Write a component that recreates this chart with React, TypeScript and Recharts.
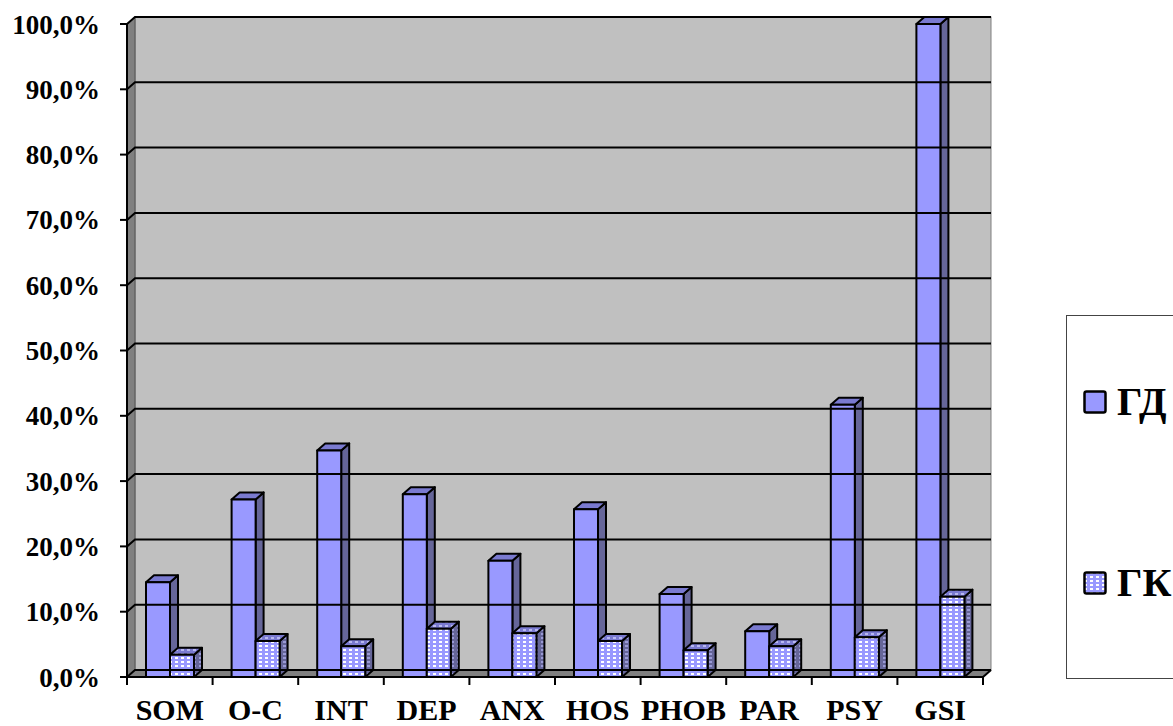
import React from "react";
import {
  BarChart,
  Bar,
  XAxis,
  YAxis,
  ReferenceArea,
  ReferenceLine,
  Legend,
} from "recharts";

const categories = ["SOM", "O-C", "INT", "DEP", "ANX", "HOS", "PHOB", "PAR", "PSY", "GSI"];
const gdValues = [14.5, 27.2, 34.7, 28.0, 17.8, 25.7, 12.7, 7.0, 41.7, 100.0];
const gkValues = [3.4, 5.5, 4.7, 7.4, 6.7, 5.5, 4.1, 4.7, 6.1, 12.3];
const yTicks = [0, 10, 20, 30, 40, 50, 60, 70, 80, 90, 100];
const seriesNames = ["ГД", "ГК"];

const data = categories.map((c, i) => ({ name: c, gd: gdValues[i], gk: gkValues[i] }));

const FONT = "'Liberation Serif', 'Times New Roman', serif";
const DX = 8;
const DY = 7;
const X_TICK_MARGIN = 22;

const GD_FACES = { front: "#9999FF", side: "#666699", top: "#7a7ad0" };
const GK_FACES = { front: "url(#gkFront)", side: "url(#gkSide)", top: "url(#gkTop)" };

function Box3D(props: any) {
  const { x, y, width, height, faces } = props;
  if (height == null || width == null) return null;
  const r = x + width;
  const b = y + height;
  return (
    <g stroke="#000" strokeWidth={2} strokeLinejoin="round">
      <polygon points={`${r},${y} ${r + DX},${y - DY} ${r + DX},${b - DY} ${r},${b}`} fill={faces.side} />
      <polygon points={`${x},${y} ${x + DX},${y - DY} ${r + DX},${y - DY} ${r},${y}`} fill={faces.top} />
      <rect x={x} y={y} width={width} height={height} fill={faces.front} />
    </g>
  );
}

function Walls(props: any) {
  const { x, y, width, height } = props;
  const r = x + width;
  const b = y + height;
  return (
    <g>
      <rect x={x + DX} y={y - DY} width={width} height={height} fill="#C0C0C0" stroke="#808080" strokeWidth={1} />
      <polygon points={`${x},${y} ${x + DX},${y - DY} ${x + DX},${b - DY} ${x},${b}`} fill="#808080" stroke="#555" strokeWidth={1} />
      <polygon points={`${x},${b} ${x + DX},${b - DY} ${r + DX},${b - DY} ${r},${b}`} fill="#808080" stroke="#555" strokeWidth={1} />
      <line x1={r} y1={b} x2={r + DX} y2={b - DY} stroke="#000" strokeWidth={2} />
    </g>
  );
}

function GridLine(props: any) {
  const { x1, y1, x2 } = props;
  return (
    <polyline
      points={`${x1},${y1} ${x1 + DX},${y1 - DY} ${x2 + DX},${y1 - DY}`}
      fill="none"
      stroke="#000"
      strokeWidth={2}
    />
  );
}

// category label plus tick marks at the band edges
function CatTick(props: any) {
  const { x, y, payload, width, visibleTicksCount, index } = props;
  const bw = width && visibleTicksCount ? width / visibleTicksCount : 0;
  const ay = y - X_TICK_MARGIN;
  return (
    <g>
      {bw > 0 && <line x1={x - bw / 2} y1={ay} x2={x - bw / 2} y2={ay + 8} stroke="#000" strokeWidth={2} />}
      {bw > 0 && index === visibleTicksCount - 1 && (
        <line x1={x + bw / 2} y1={ay} x2={x + bw / 2} y2={ay + 8} stroke="#000" strokeWidth={2} />
      )}
      <text
        x={x}
        y={y}
        dy="0.71em"
        textAnchor="middle"
        fontSize={30}
        fontWeight="bold"
        fontFamily={FONT}
        fill="#000"
      >
        {payload.value}
      </text>
    </g>
  );
}

function LegendBox() {
  return (
    <div
      style={{
        boxSizing: "border-box",
        width: 120,
        height: 364,
        border: "1px solid #444",
        background: "#fff",
        position: "relative",
        fontFamily: FONT,
        fontWeight: "bold",
        fontSize: 40,
        color: "#000",
      }}
    >
      {seriesNames.map((n, i) => (
        <div
          key={n}
          style={{
            position: "absolute",
            left: 16,
            top: i === 0 ? 66 : 247,
            display: "flex",
            alignItems: "center",
            height: 40,
          }}
        >
          <svg width={24} height={24} style={{ marginRight: 10 }}>
            <rect
              x={1.5}
              y={1.5}
              width={21}
              height={21}
              rx={2}
              fill={i === 0 ? GD_FACES.front : GK_FACES.front}
              stroke="#000"
              strokeWidth={2.5}
            />
          </svg>
          <span style={{ lineHeight: "40px" }}>{n}</span>
        </div>
      ))}
    </div>
  );
}

export default function App() {
  return (
    <div style={{ position: "absolute", left: 0, top: 0, width: 1173, height: 726, background: "#fff" }}>
      <svg width={0} height={0} style={{ position: "absolute" }}>
        <defs>
          <pattern id="gkFront" width={6} height={4} patternUnits="userSpaceOnUse">
            <rect width={6} height={4} fill="#9999FF" />
            <rect x={1} y={1} width={3} height={2} fill="#ffffff" />
          </pattern>
          <pattern id="gkSide" width={6} height={4} patternUnits="userSpaceOnUse">
            <rect width={6} height={4} fill="#666699" />
            <rect x={1} y={1} width={3} height={2} fill="#9a9ad6" />
          </pattern>
          <pattern id="gkTop" width={6} height={4} patternUnits="userSpaceOnUse">
            <rect width={6} height={4} fill="#7a7ad0" />
            <rect x={1} y={1} width={3} height={2} fill="#b8b8f0" />
          </pattern>
        </defs>
      </svg>
      <BarChart
        width={1173}
        height={726}
        data={data}
        margin={{ top: 24, right: 70, bottom: 0, left: 0 }}
        barGap={0}
        barSize={24}
      >
        <XAxis
          dataKey="name"
          height={49}
          axisLine={{ stroke: "#000", strokeWidth: 2 }}
          tickLine={false}
          tickSize={0}
          tickMargin={X_TICK_MARGIN}
          interval={0}
          tick={(p: any) => <CatTick {...p} />}
        />
        <YAxis
          width={127}
          domain={[0, 100]}
          ticks={yTicks}
          interval={0}
          axisLine={{ stroke: "#000", strokeWidth: 2 }}
          tickLine={{ stroke: "#000", strokeWidth: 2 }}
          tickSize={7}
          tickMargin={20}
          tickFormatter={(v: number) => `${v.toFixed(1).replace(".", ",")}%`}
          tick={{ fontSize: 27, fontWeight: "bold", fill: "#000", fontFamily: FONT }}
        />
        <ReferenceArea y1={0} y2={100} shape={<Walls />} ifOverflow="visible" />
        {yTicks.map((v) => (
          <ReferenceLine key={v} y={v} shape={(p: any) => <GridLine {...p} />} ifOverflow="visible" />
        ))}
        <Legend
          layout="horizontal"
          verticalAlign="middle"
          align="right"
          content={() => <LegendBox />}
          wrapperStyle={{ left: 1066, top: 315, width: 120, height: 364 }}
        />
        <Bar dataKey="gd" name={seriesNames[0]} isAnimationActive={false} shape={(p: any) => <Box3D {...p} faces={GD_FACES} />} />
        <Bar dataKey="gk" name={seriesNames[1]} isAnimationActive={false} shape={(p: any) => <Box3D {...p} faces={GK_FACES} />} />
      </BarChart>
    </div>
  );
}
